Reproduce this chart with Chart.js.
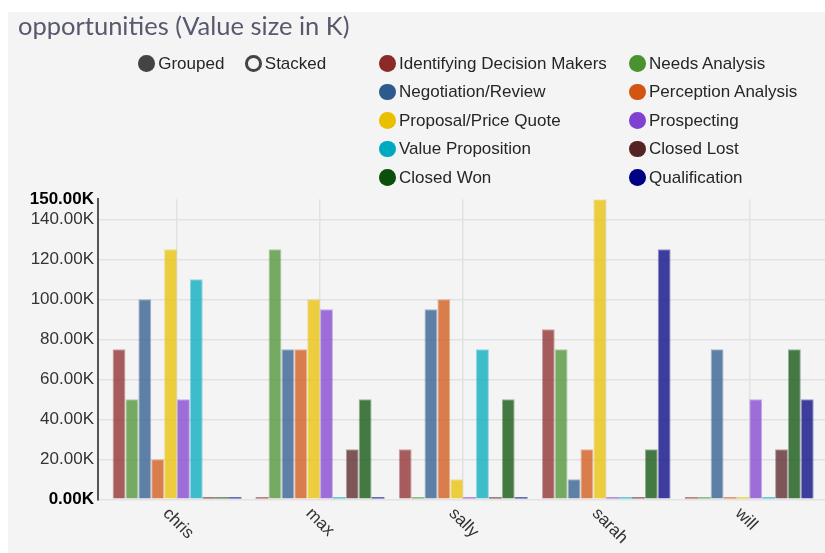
<!DOCTYPE html>
<html>
<head>
<meta charset="utf-8">
<script src="https://cdn.jsdelivr.net/npm/chart.js@4"></script>
<style>
  html, body { margin: 0; padding: 0; background: #ffffff; width: 825px; height: 553px; overflow: hidden; }
  #panel { position: absolute; left: 8px; top: 12px; width: 817px; height: 541px; background: #f4f4f4; }
  #chart { position: absolute; left: 0; top: 0; z-index: 1; }
  #title { position: absolute; left: 18px; top: 10px; z-index: 2; font-family: Lato, "Open Sans", sans-serif; font-size: 25.5px; line-height: 30px; color: #58596c; white-space: nowrap; }
  .lg { position: absolute; z-index: 2; font-family: "Liberation Sans", Arial, sans-serif; font-size: 17px; color: #262626; white-space: nowrap; height: 20px; line-height: 20px; }
  .dot { position: absolute; width: 16.6px; height: 16.6px; border-radius: 50%; box-sizing: border-box; }
</style>
</head>
<body>
<div id="panel"></div>
<canvas id="chart" width="825" height="553"></canvas>
<div id="title">opportunities (Value size in K)</div>
<div id="legend"></div>
<script>
// ---- data (values in K) ----
const categories = ['chris', 'max', 'sally', 'sarah', 'will'];
const seriesNames = [
  'Identifying Decision Makers', 'Needs Analysis', 'Negotiation/Review', 'Perception Analysis',
  'Proposal/Price Quote', 'Prospecting', 'Value Proposition', 'Closed Lost', 'Closed Won', 'Qualification'
];
const identifyingDecisionMakers = [75, 0, 25, 85, 0];
const needsAnalysis            = [50, 125, 0, 75, 0];
const negotiationReview        = [100, 75, 95, 10, 75];
const perceptionAnalysis       = [20, 75, 100, 25, 0];
const proposalPriceQuote       = [125, 100, 10, 150, 0];
const prospecting              = [50, 95, 0, 0, 50];
const valueProposition         = [110, 0, 75, 0, 0];
const closedLost               = [0, 25, 0, 0, 25];
const closedWon                = [0, 50, 50, 25, 75];
const qualification            = [0, 0, 0, 125, 50];
const yTickValues = [0, 20, 40, 60, 80, 100, 120, 140, 150];
const modeLabels = ['Grouped', 'Stacked'];

const seriesValues = [identifyingDecisionMakers, needsAnalysis, negotiationReview, perceptionAnalysis,
  proposalPriceQuote, prospecting, valueProposition, closedLost, closedWon, qualification];
const seriesColors = ['#8c2a2a', '#4a9130', '#2d5a8c', '#d25514', '#e8c000', '#8040d0', '#00aabe', '#552323', '#0a500a', '#000082'];

function rgba(hex, a) {
  const n = parseInt(hex.slice(1), 16);
  return `rgba(${(n >> 16) & 255},${(n >> 8) & 255},${n & 255},${a})`;
}

const FONT = '"Liberation Sans", Arial, sans-serif';

const rotatedLabels = {
  id: 'rotatedLabels',
  afterDraw(chart) {
    const xs = chart.scales.x;
    const ctx = chart.ctx;
    ctx.save();
    ctx.font = '17px ' + FONT;
    ctx.fillStyle = '#333333';
    ctx.textAlign = 'left';
    ctx.textBaseline = 'alphabetic';
    categories.forEach((c, i) => {
      const x = xs.getPixelForValue(i);
      ctx.save();
      ctx.translate(x, chart.chartArea.bottom);
      ctx.rotate(Math.PI / 4);
      ctx.fillText(c, 0, 21);
      ctx.restore();
    });
    ctx.restore();
  }
};

const chart = new Chart(document.getElementById('chart'), {
  type: 'bar',
  data: {
    datasets: seriesNames.map((name, k) => ({
      label: name,
      data: seriesValues[k].map((v, i) => ({ x: i, y: v })),
      backgroundColor: rgba(seriesColors[k], 0.75),
      borderColor: rgba(seriesColors[k], 0.4),
      borderWidth: (c) => (c.raw && c.raw.y === 0) ? 0 : 1,
      minBarLength: 2
    }))
  },
  options: {
    responsive: false,
    animation: false,
    layout: { padding: { top: 199.3, bottom: 53.7, left: 0, right: 0 } },
    plugins: { legend: { display: false }, tooltip: { enabled: false }, title: { display: false } },
    datasets: { bar: { categoryPercentage: 0.9, barPercentage: 1 } },
    scales: {
      x: {
        type: 'linear',
        min: -0.552,
        max: 4.529,
        offset: false,
        grid: { offset: false, color: '#e2e2e2', lineWidth: 1.5, drawTicks: false },
        border: { display: false },
        ticks: { display: false },
        afterBuildTicks: (s) => { s.ticks = categories.map((_, i) => ({ value: i })); },
        afterFit: (s) => { s.height = 0; }
      },
      y: {
        min: 0,
        max: 150,
        afterBuildTicks: (s) => { s.ticks = yTickValues.map(v => ({ value: v })); },
        afterFit: (s) => { s.width = 98; },
        grid: {
          drawTicks: false,
          lineWidth: 1.5,
          color: (c) => (c.tick && c.tick.value === 150) ? 'rgba(0,0,0,0)' : '#e2e2e2'
        },
        border: { display: true, color: '#555555', width: 2 },
        ticks: {
          padding: 4,
          callback: (v) => Number(v).toFixed(2) + 'K',
          font: (c) => ({ family: FONT, size: 17, weight: (c.tick && (c.tick.value === 0 || c.tick.value === 150)) ? 'bold' : 'normal' }),
          color: (c) => (c.tick && (c.tick.value === 0 || c.tick.value === 150)) ? '#000000' : '#333333'
        }
      }
    }
  },
  plugins: [rotatedLabels]
});

// ---- HTML legend built from the same arrays ----
const legend = document.getElementById('legend');
function addItem(cx, cy, text, dotStyle) {
  const d = document.createElement('div');
  d.className = 'dot';
  d.style.left = (cx - 8.3) + 'px';
  d.style.top = (cy - 8.3) + 'px';
  Object.assign(d.style, dotStyle);
  d.style.zIndex = 2;
  legend.appendChild(d);
  const t = document.createElement('div');
  t.className = 'lg';
  t.style.left = (cx + 11.5) + 'px';
  t.style.top = (cy - 9.5) + 'px';
  t.textContent = text;
  legend.appendChild(t);
}
addItem(146.7, 63.3, modeLabels[0], { background: '#444444' });
addItem(253.3, 63.3, modeLabels[1], { border: '3px solid #444444', background: 'transparent' });
seriesNames.forEach((name, k) => {
  const col = k % 2, row = Math.floor(k / 2);
  const cx = col === 0 ? 387.5 : 637.5;
  const cy = 63.3 + row * 28.5;
  addItem(cx, cy, name, { background: seriesColors[k] });
});
</script>
</body>
</html>
